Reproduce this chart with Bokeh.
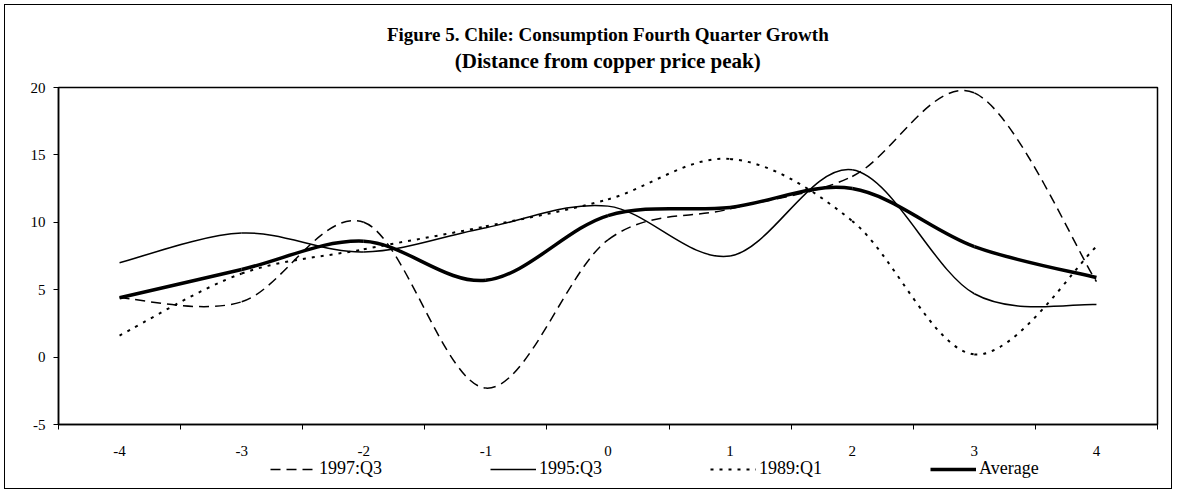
from bokeh.plotting import figure
from bokeh.layouts import column
from bokeh.models import (Range1d, FixedTicker, Legend, LegendItem, Title,
                          LinearAxis, ColumnDataSource)
from bokeh.embed import file_html
from bokeh.resources import INLINE

# ---- data -------------------------------------------------------------
quarters = [-4, -3, -2, -1, 0, 1, 2, 3, 4]          # distance from copper price peak
y_ticks = [-5, 0, 5, 10, 15, 20]

s1997 = [4.4, 4.1, 10.0, -2.3, 8.7, 11.0, 13.4, 19.6, 5.6]   # 1997:Q3
s1995 = [7.0, 9.2, 7.8, 9.6, 11.2, 7.5, 13.9, 4.7, 3.9]     # 1995:Q3
s1989 = [1.6, 6.2, 8.0, 9.7, 11.7, 14.7, 10.1, 0.2, 8.2]    # 1989:Q1
avg = [4.4, 6.5, 8.6, 5.7, 10.5, 11.1, 12.5, 8.2, 5.9]      # Average

series_labels = ["1997:Q3", "1995:Q3", "1989:Q1", "Average"]
title_text = "Figure 5. Chile: Consumption Fourth Quarter Growth"
subtitle_text = "(Distance from copper price peak)"

FONT = "Liberation Serif"

# line styles of the four series (shared by the curves and the legend keys)
styles = [dict(line_width=1.5, line_dash="10 6"),
          dict(line_width=1.5, line_dash="solid"),
          dict(line_width=2, line_dash="3 6"),
          dict(line_width=3.5, line_dash="solid")]


def smooth_source(xs, ys):
    """Bezier segments through the data points (Excel-like smoothed line)."""
    n = len(xs)
    d = dict(x0=[], y0=[], x1=[], y1=[], cx0=[], cy0=[], cx1=[], cy1=[])
    for i in range(n - 1):
        xp, yp = (xs[i - 1], ys[i - 1]) if i > 0 else (xs[i], ys[i])
        xn, yn = (xs[i + 2], ys[i + 2]) if i + 2 < n else (xs[i + 1], ys[i + 1])
        d["x0"].append(xs[i]); d["y0"].append(ys[i])
        d["x1"].append(xs[i + 1]); d["y1"].append(ys[i + 1])
        d["cx0"].append(xs[i] + (xs[i + 1] - xp) / 6.0)
        d["cy0"].append(ys[i] + (ys[i + 1] - yp) / 6.0)
        d["cx1"].append(xs[i + 1] - (xn - xs[i]) / 6.0)
        d["cy1"].append(ys[i + 1] - (yn - ys[i]) / 6.0)
    return ColumnDataSource(d)


# ---- main chart ---------------------------------------------------------
p = figure(frame_width=1099, frame_height=337,
           x_range=Range1d(quarters[0] - 0.5, quarters[-1] + 0.5),
           y_range=Range1d(y_ticks[0], y_ticks[-1]),
           output_backend="svg", toolbar_location=None,
           min_border_left=53, min_border_right=14,
           min_border_top=82, min_border_bottom=33,
           background_fill_color="white", border_fill_color="white")

p.outline_line_color = "black"
p.outline_line_width = 1.5
p.grid.visible = False

# y axis
p.yaxis.ticker = FixedTicker(ticks=y_ticks, minor_ticks=[])
p.yaxis.major_label_overrides = {t: str(t) for t in y_ticks}
p.yaxis.axis_line_color = "black"
p.yaxis.axis_line_width = 1.5
p.yaxis.major_tick_out = 5
p.yaxis.major_tick_in = 0
p.yaxis.major_tick_line_color = "black"
p.yaxis.major_label_standoff = 8
p.yaxis.major_label_text_font = FONT
p.yaxis.major_label_text_font_size = "15px"
p.yaxis.major_label_text_color = "black"

# x axis: labels at the categories, tick marks between them
p.xaxis.ticker = FixedTicker(ticks=quarters,
                             minor_ticks=[q - 0.5 for q in quarters] + [quarters[-1] + 0.5])
p.xaxis.major_label_overrides = {q: str(q) for q in quarters}
p.xaxis.axis_line_color = "black"
p.xaxis.axis_line_width = 1.5
p.xaxis.major_tick_line_color = None
p.xaxis.major_tick_out = 0
p.xaxis.major_tick_in = 0
p.xaxis.minor_tick_line_color = "black"
p.xaxis.minor_tick_out = 5
p.xaxis.minor_tick_in = 0
p.xaxis.major_label_standoff = 16
p.xaxis.major_label_text_font = FONT
p.xaxis.major_label_text_font_size = "15px"
p.xaxis.major_label_text_color = "black"

# series
series = [s1997, s1995, s1989, avg]
common = dict(x0="x0", y0="y0", x1="x1", y1="y1", cx0="cx0", cy0="cy0",
              cx1="cx1", cy1="cy1", line_color="black")
for vals, st in zip(series, styles):
    p.bezier(source=smooth_source(quarters, vals), **common, **st)

# subtitle: label of an empty axis right above the frame
sub_axis = LinearAxis(ticker=FixedTicker(ticks=[]), axis_label=subtitle_text,
                      axis_line_color=None, major_tick_line_color=None,
                      minor_tick_line_color=None, major_tick_out=0, major_tick_in=0,
                      minor_tick_out=0, minor_tick_in=0, major_label_standoff=0,
                      axis_label_standoff=15, axis_label_text_font=FONT,
                      axis_label_text_font_size="21px",
                      axis_label_text_font_style="bold",
                      axis_label_text_color="black")
p.add_layout(sub_axis, "above")
p.add_layout(Title(text=title_text, align="center", offset=-8, standoff=2,
                   text_font=FONT, text_font_size="19px", text_font_style="bold",
                   text_color="black"), "above")

# ---- legend strip under the chart ---------------------------------------
q = figure(width=1166, height=30, x_axis_type=None, y_axis_type=None,
           output_backend="svg", toolbar_location=None,
           min_border_left=0, min_border_right=0, min_border_top=0,
           min_border_bottom=0, background_fill_color="white",
           border_fill_color="white")
q.outline_line_color = None
# legend keys: one-point lines (draw nothing themselves, only their legend swatch)
keys = [q.line(x=[quarters[0]], y=[vals[0]], line_color="black", **st)
        for vals, st in zip(series, styles)]
legend = Legend(items=[LegendItem(label=lab, renderers=[r])
                       for lab, r in zip(series_labels, keys)],
                location=(212, 9), orientation="horizontal",
                glyph_width=46, glyph_height=20, label_height=20, label_width=66,
                label_standoff=3, spacing=105, padding=0, margin=0,
                border_line_color=None, background_fill_alpha=0,
                label_text_font=FONT, label_text_font_size="18px",
                label_text_color="black")
q.add_layout(legend, "center")

page = column(p, q, spacing=0,
              styles={"margin": "5px 0px 0px 5px", "outline": "1px solid black"})

open("out.html", "w").write(file_html(page, INLINE))
